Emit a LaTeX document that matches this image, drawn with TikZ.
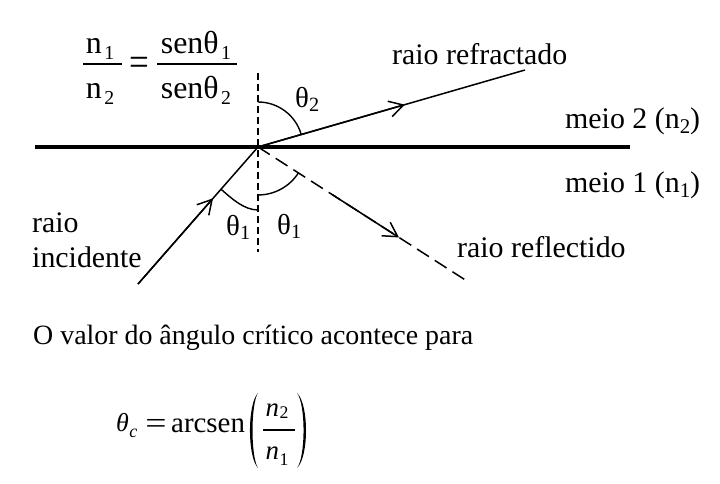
\documentclass[tikz,border=0pt]{standalone}
\usepackage{fontspec}
\setmainfont{Liberation Serif}
\usepackage{graphicx}
\usetikzlibrary{arrows.meta,calc}
\newcommand\sbx[1]{\raisebox{-0.3ex}{\scalebox{0.7}{#1}}}
\newcommand\sbf[1]{\kern0.08em\raisebox{-0.4ex}{\scalebox{0.62}{#1}}}
\newcommand\sbna[1]{\kern0.02em\raisebox{-0.1ex}{\scalebox{0.66}{\upshape #1}}}
\newcommand\sbnb[1]{\kern0.02em\raisebox{-0.45ex}{\scalebox{0.66}{\upshape #1}}}
\begin{document}
\begin{tikzpicture}[x=1bp,y=1bp,
  lbl/.style={inner sep=0pt, anchor=base west, font=\fontsize{30}{34}\selectfont},
  ang/.style={inner sep=0pt, anchor=base west, font=\fontsize{29}{32}\selectfont},
  frm/.style={inner sep=0pt, anchor=base, font=\fontsize{32}{36}\selectfont},
  frb/.style={inner sep=0pt, anchor=base, font=\fontsize{27}{30}\selectfont\itshape},
  txt/.style={inner sep=0pt, anchor=base west, font=\fontsize{28}{32}\selectfont},
  iface/.style={line width=3.6bp},
  normalline/.style={line width=1.2bp, dash pattern=on 7bp off 4bp},
  ray/.style={line width=1.5bp},
  arcline/.style={line width=1.4bp},
  barline/.style={line width=1.6bp},
  tip/.style={-{Straight Barb[length=14bp,width=16bp]}},
]
\useasboundingbox (0,0) rectangle (720,484);

% geometry
\coordinate (O) at (258,337);
\coordinate (L) at (35,337);
\coordinate (Rt) at (630,337);
\coordinate (NT) at (258,411);
\coordinate (NB) at (258,232);
\coordinate (A) at (138,200);
\coordinate (R) at (525,414);
\coordinate (F) at (470,201);

\draw[iface] (L) -- (Rt);
\draw[normalline] (NT) -- (NB);

\draw[ray] (A) -- (O);
\draw[ray,tip] (A) -- ($(A)!0.625!(O)$);
\draw[ray] (O) -- (R);
\draw[ray,tip] (O) -- ($(O)!0.55!(R)$);
\draw[ray, dash pattern=on 14bp off 7bp] (O) -- (F);
\draw[ray,tip] ($(O)!0.35!(F)$) -- ($(O)!0.665!(F)$);

% angle arcs
\draw[arcline] (O) ++(90:45) arc[start angle=90, end angle=16.1, radius=45];
\draw[arcline] (O) ++(270:48) arc[start angle=270, end angle=327.3, radius=48];
\draw[arcline] (221,294.8) .. controls (231.5,285.6) and (244,274) .. (258,274);

% labels
\node[ang] (t2) at (295,376) {θ\sbx{2}};
\node[ang] (t1a) at (226,248) {θ\sbx{1}};
\node[ang] (t1b) at (277,249) {θ\sbx{1}};
\node[lbl] (lrefr) at (392,419) {raio refractado};
\node[lbl] (lm2) at (565,355) {meio 2 (n\sbx{2})};
\node[lbl] (lm1) at (565,291) {meio 1 (n\sbx{1})};
\node[lbl] (lrefl) at (457,226) {raio reflectido};
\node[lbl] (linc1) at (32,251) {raio};
\node[lbl] (linc2) at (32,216) {incidente};

% Snell formula
\node[frm] (fn1) at (100,430) {n\sbf{1}};
\node[frm] (fn2) at (100,385) {n\sbf{2}};
\coordinate (b1l) at (83,420);
\coordinate (b1r) at (122,420);
\draw[barline] (b1l) -- (b1r);
\node[frm] (feq) at (139,408.5) {\scalebox{1.1}[1.25]{=}};
\node[frm] (fs1) at (196,430) {senθ\sbf{1}};
\node[frm] (fs2) at (196,385) {senθ\sbf{2}};
\coordinate (b2l) at (157,420);
\coordinate (b2r) at (237,420);
\draw[barline] (b2l) -- (b2r);

% sentence
\node[txt] (sent) at (33,139) {O valor do ângulo crítico acontece para};

% critical angle formula
\node[inner sep=0pt, anchor=base west, font=\fontsize{26}{30}\selectfont\itshape] (cth) at (116,52) {θ};
\node[inner sep=0pt, anchor=base west, font=\fontsize{18}{20}\selectfont\itshape] (csub) at (cth.base east) [yshift=-6bp] {c};
\node[inner sep=0pt, anchor=base, font=\fontsize{28}{32}\selectfont] (ceq) at (156,50.5) {\scalebox{1.35}[1.1]{=}};
\node[inner sep=0pt, anchor=base west, font=\fontsize{29}{32}\selectfont] (carc) at (171,51) {arcsen};
\node[frb] (cn2) at (277,67) {n\sbna{2}};
\node[frb] (cn1) at (277,24) {n\sbnb{1}};
\coordinate (b3l) at (263,54);
\coordinate (b3r) at (295,54);
\draw[line width=1.3bp] (b3l) -- (b3r);
\fill (258,91) .. controls (247.3,80) and (247.3,27) .. (258,16)
      .. controls (250.7,27) and (250.7,80) .. (258,91) -- cycle;
\fill (297,91) .. controls (309,80) and (309,27) .. (297,16)
      .. controls (305.7,27) and (305.7,80) .. (297,91) -- cycle;
\end{tikzpicture}
\end{document}
